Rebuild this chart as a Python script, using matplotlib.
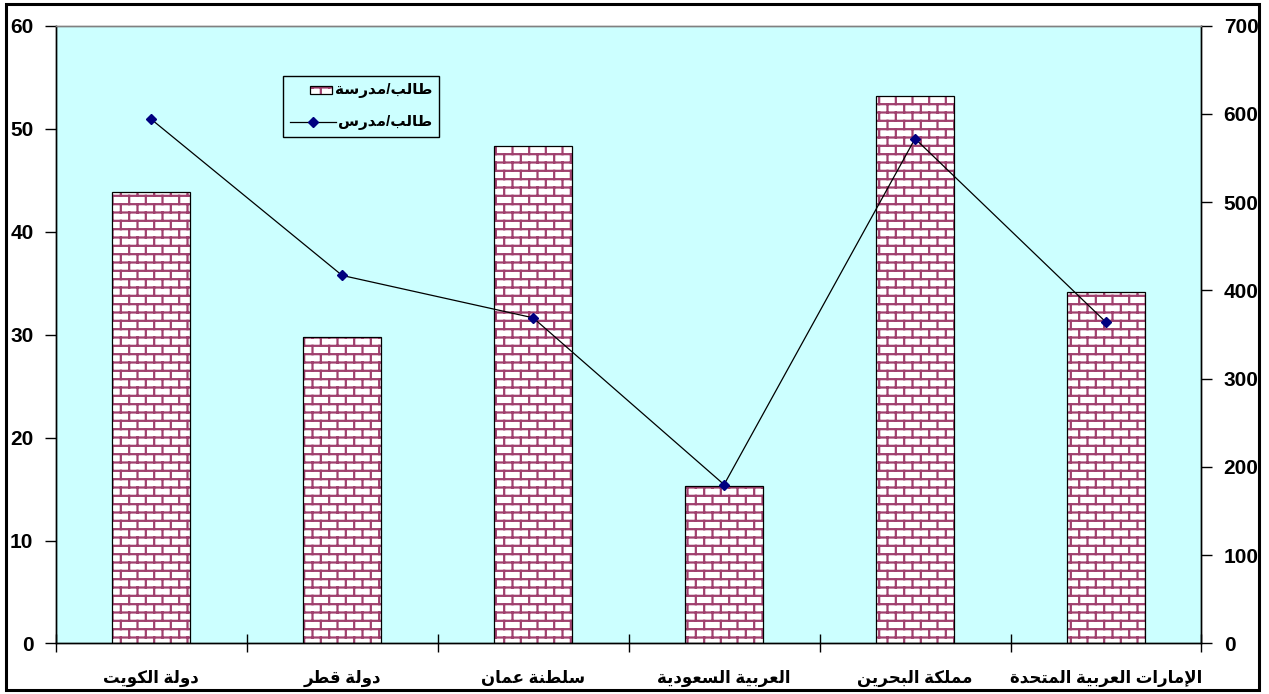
import warnings
import numpy as np
import matplotlib
matplotlib.use('Agg')
import matplotlib.pyplot as plt
import matplotlib.hatch as mhatch
from matplotlib.path import Path
from matplotlib.patches import Rectangle
from matplotlib.lines import Line2D
from matplotlib.offsetbox import (AnchoredOffsetbox, DrawingArea, TextArea,
                                  HPacker, VPacker)

warnings.filterwarnings('ignore')

# ---------------- data ----------------
countries = ['دولة الكويت', 'دولة قطر', 'سلطنة عمان', 'العربية السعودية',
             'مملكة البحرين', 'الإمارات العربية المتحدة']
bar_values = [43.8, 29.8, 48.3, 15.3, 53.2, 34.1]      # left axis (bars)
line_values = [594, 417, 369, 180, 572, 364]           # right axis (line)
bar_label = 'طالب/مدرسة'
line_label = 'طالب/مدرس'
left_ticks = [0, 10, 20, 30, 40, 50, 60]
right_ticks = [0, 100, 200, 300, 400, 500, 600, 700]

# ---------------- arabic shaping (presentation forms) ----------------
_FORMS = {
    'ا': (0xFE8D, 0xFE8E, None, None),
    'إ': (0xFE87, 0xFE88, None, None),
    'ب': (0xFE8F, 0xFE90, 0xFE91, 0xFE92),
    'ة': (0xFE93, 0xFE94, None, None),
    'ت': (0xFE95, 0xFE96, 0xFE97, 0xFE98),
    'ح': (0xFEA1, 0xFEA2, 0xFEA3, 0xFEA4),
    'د': (0xFEA9, 0xFEAA, None, None),
    'ر': (0xFEAD, 0xFEAE, None, None),
    'س': (0xFEB1, 0xFEB2, 0xFEB3, 0xFEB4),
    'ط': (0xFEC1, 0xFEC2, 0xFEC3, 0xFEC4),
    'ع': (0xFEC9, 0xFECA, 0xFECB, 0xFECC),
    'ق': (0xFED5, 0xFED6, 0xFED7, 0xFED8),
    'ك': (0xFED9, 0xFEDA, 0xFEDB, 0xFEDC),
    'ل': (0xFEDD, 0xFEDE, 0xFEDF, 0xFEE0),
    'م': (0xFEE1, 0xFEE2, 0xFEE3, 0xFEE4),
    'ن': (0xFEE5, 0xFEE6, 0xFEE7, 0xFEE8),
    'و': (0xFEED, 0xFEEE, None, None),
    'ي': (0xFEF1, 0xFEF2, 0xFEF3, 0xFEF4),
    'لا': (0xFEFB, 0xFEFC, None, None),
    'لإ': (0xFEF9, 0xFEFA, None, None),
}


def shape_ar(s):
    toks = []
    i = 0
    while i < len(s):
        if s[i] == 'ل' and i + 1 < len(s) and s[i + 1] in 'اإ':
            toks.append(s[i:i + 2])
            i += 2
        else:
            toks.append(s[i])
            i += 1
    out = []
    for k, t in enumerate(toks):
        if t not in _FORMS:
            out.append(t)
            continue
        iso, fin, ini, med = _FORMS[t]
        prev = toks[k - 1] if k > 0 else None
        nxt = toks[k + 1] if k + 1 < len(toks) else None
        jp = prev in _FORMS and _FORMS[prev][2] is not None
        jn = ini is not None and nxt in _FORMS
        if jp and jn:
            c = med
        elif jp:
            c = fin
        elif jn:
            c = ini
        else:
            c = iso
        out.append(chr(c))
    return ''.join(out)[::-1]


# ---------------- brick hatch ----------------
class BrickHatch(mhatch.HatchPatternBase):
    rows = 12
    cols = 6

    def __init__(self, hatch, density):
        on = 'B' in hatch
        n = self.rows * 2 + self.rows * self.cols * 2 + self.cols * 2
        self.num_vertices = n if on else 0

    def set_vertices_and_codes(self, vertices, codes):
        v = []
        h = 1.0 / self.rows
        for r in range(self.rows):
            y0 = (r + 0.5) * h
            y1 = min(y0 + h, 1.0)
            v += [(0.0, y0), (1.0, y0)]
            off = 0.5 if r % 2 else 0.0
            for c in range(self.cols):
                xx = (c + off + 0.25) / self.cols
                v += [(xx, y0), (xx, y1)]
        # wrap-around part of the last row
        off = 0.5 if (self.rows - 1) % 2 else 0.0
        for c in range(self.cols):
            xx = (c + off + 0.25) / self.cols
            v += [(xx, 0.0), (xx, 0.5 * h)]
        vertices[:] = np.array(v)
        codes[0::2] = Path.MOVETO
        codes[1::2] = Path.LINETO


mhatch._hatch_types.append(BrickHatch)

# ---------------- style ----------------
plt.rcParams['font.family'] = ['Liberation Sans', 'DejaVu Sans']
plt.rcParams['font.weight'] = 'bold'
plt.rcParams['hatch.linewidth'] = 1.6

BG = '#CCFFFF'
BRICK = '#A0406E'
NAVY = '#000080'

fig = plt.figure(figsize=(12.69, 6.94), dpi=100)
ax = fig.add_axes([0.0439, 0.0728, 0.9029, 0.8902])
ax.set_facecolor(BG)
ax2 = ax.twinx()
ax2.patch.set_visible(False)

x = np.arange(len(countries))
W = 0.41
ax.bar(x, bar_values, width=W, color='white', edgecolor=BRICK, hatch='B',
       linewidth=0, zorder=2)
ax.bar(x, bar_values, width=W, fill=False, edgecolor='black', linewidth=0.9,
       zorder=3)

ax2.plot(x, line_values, color='black', linewidth=0.9, marker='D',
         markersize=5, markerfacecolor=NAVY, markeredgecolor=NAVY, zorder=4)

ax.set_xlim(-0.5, len(countries) - 0.5)
ax.set_ylim(0, 60)
ax2.set_ylim(0, 700)
ax.set_yticks(left_ticks)
ax2.set_yticks(right_ticks)

ax.set_xticks(np.arange(len(countries) + 1) - 0.5)
ax.set_xticklabels([])
ax.set_xticks(x, minor=True)
ax.set_xticklabels([shape_ar(c) for c in countries], minor=True)
ax.tick_params(axis='x', which='major', direction='inout', length=13,
               width=1, color='black')
ax.tick_params(axis='x', which='minor', length=0, pad=19, labelsize=12)
ax.tick_params(axis='y', direction='out', length=8, width=1, pad=8,
               labelsize=15)
ax2.tick_params(axis='y', direction='out', length=8, width=1, pad=8,
                labelsize=15)

for a in (ax, ax2):
    for side in ('left', 'right', 'bottom'):
        a.spines[side].set_color('black')
        a.spines[side].set_linewidth(1.0)
    a.spines['top'].set_color('#808080')
    a.spines['top'].set_linewidth(1.0)

# ---------------- legend (right-aligned rows, Excel style) ----------------
PT = 0.72
da1 = DrawingArea(22 * PT, 8 * PT, 0, 0)
da1.add_artist(Rectangle((0, 0), 22 * PT, 8 * PT, facecolor='white',
                         edgecolor=BRICK, hatch='B', linewidth=0))
da1.add_artist(Rectangle((0, 0), 22 * PT, 8 * PT, fill=False,
                         edgecolor='black', linewidth=0.9))
da2 = DrawingArea(46 * PT, 8 * PT, 0, 0)
da2.add_artist(Line2D([0, 46 * PT], [4 * PT, 4 * PT], color='black',
                      linewidth=0.9))
da2.add_artist(Line2D([23 * PT], [4 * PT], marker='D', markersize=5,
                      markerfacecolor=NAVY, markeredgecolor=NAVY))
tp = dict(fontsize=11, fontweight='bold',
          family=['Liberation Sans', 'DejaVu Sans'])
row1 = HPacker(children=[da1, TextArea(shape_ar(bar_label), textprops=tp)],
               align='center', pad=0, sep=2)
row2 = HPacker(children=[da2, TextArea(shape_ar(line_label), textprops=tp)],
               align='center', pad=0, sep=2)
box = VPacker(children=[row1, row2], align='right', pad=0, sep=12)
anch = AnchoredOffsetbox(loc='upper left', child=box, pad=0.5, borderpad=0,
                         bbox_to_anchor=(0.198, 0.9186),
                         bbox_transform=ax.transAxes, frameon=True)
anch.patch.set_facecolor(BG)
anch.patch.set_edgecolor('black')
anch.patch.set_linewidth(1.0)
anch.patch.set_boxstyle('square', pad=0)
ax2.add_artist(anch)

# ---------------- outer border ----------------
fig.patches.append(Rectangle((6 / 1269, 4 / 694), 1253 / 1269, 686 / 694,
                             transform=fig.transFigure, fill=False,
                             edgecolor='black', linewidth=2.2))

fig.savefig('out.png', dpi=100)
